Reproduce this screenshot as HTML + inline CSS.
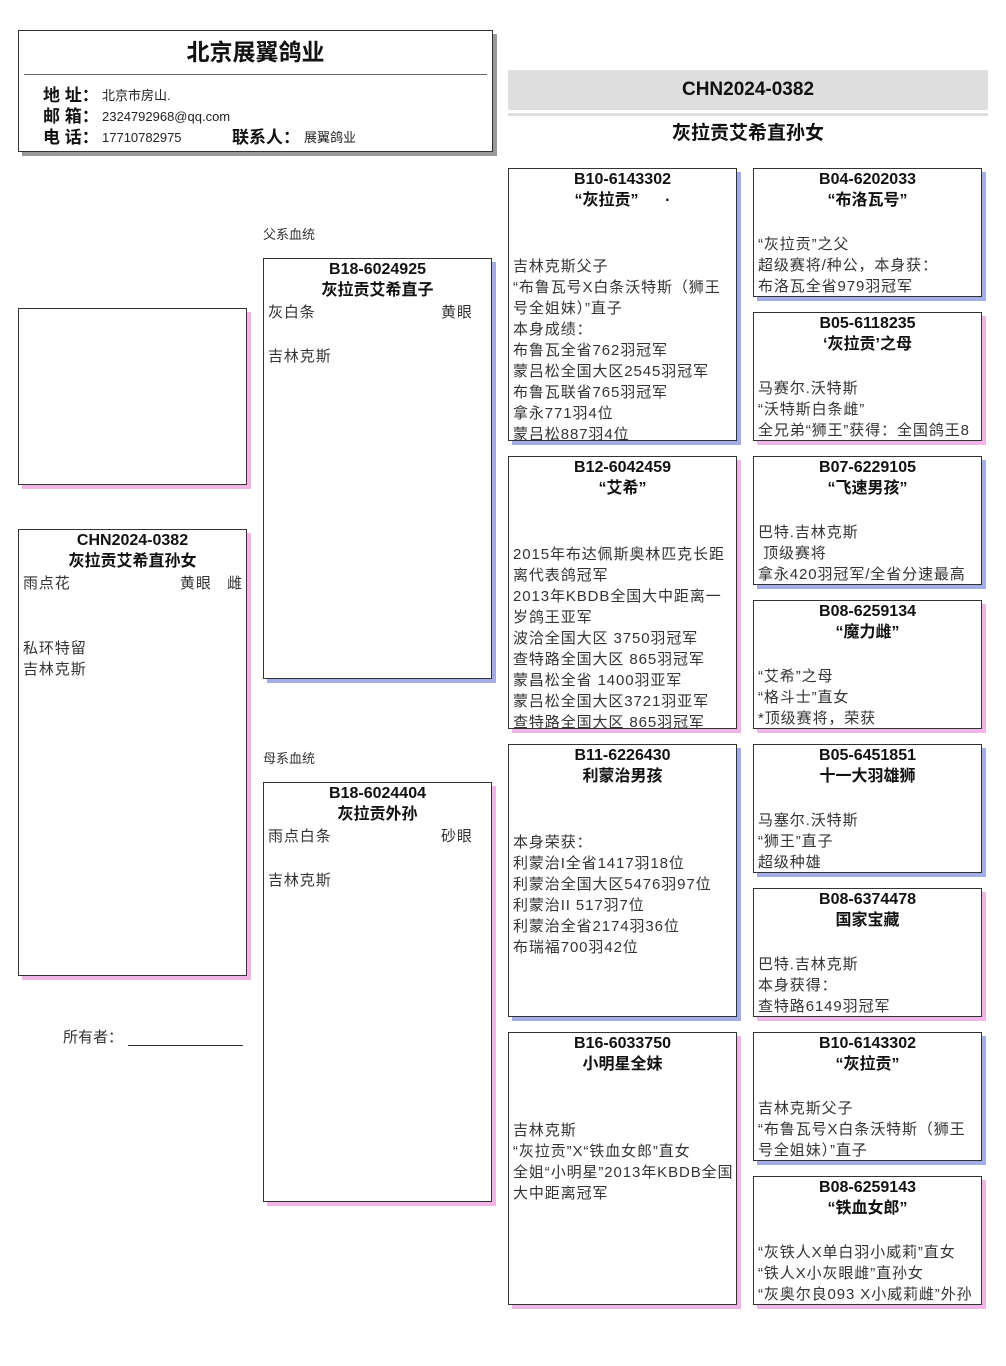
<!DOCTYPE html>
<html><head><meta charset="utf-8">
<style>
*{margin:0;padding:0;box-sizing:border-box}
body{width:1006px;height:1366px;background:#fff;position:relative;overflow:hidden;font-family:"Liberation Sans","Noto Sans CJK SC",sans-serif;color:#333}
.b{position:absolute;border:1px solid #333;background:#fff;overflow:hidden}
.m{box-shadow:4px 4px 0 #a3ace6}
.f{box-shadow:4px 4px 0 #f1b4e6}
.t{text-align:center;font-weight:bold;font-size:16px;line-height:21px;color:#111;white-space:nowrap}
.bd{position:absolute;left:4px;right:2px;font-size:15px;line-height:21px;color:#333;letter-spacing:0.9px}
.bd div{white-space:nowrap}
.w div{white-space:normal}
.a{position:absolute;font-size:15px;line-height:21px;white-space:nowrap;letter-spacing:0.9px}
.lbl{position:absolute;font-size:13px;color:#333}
</style></head><body>

<div class="b" style="left:18px;top:30px;width:475px;height:122px;box-shadow:4px 4px 0 #999">
 <div style="position:absolute;left:0;right:0;top:6px;text-align:center;font-weight:bold;font-size:23px;line-height:30px;color:#111">北京展翼鸽业</div>
 <div style="position:absolute;left:5px;right:5px;top:43px;border-top:1px solid #666"></div>
 <div style="position:absolute;left:24px;top:54px;font-size:17px;font-weight:bold;line-height:21px;color:#111">地 址：<br>邮 箱：<br>电 话：</div>
 <div style="position:absolute;left:83px;top:54px;font-size:13px;line-height:21px;color:#222">北京市房山.<br>2324792968@qq.com<br>17710782975</div>
 <div style="position:absolute;left:213px;top:96px;font-size:17px;font-weight:bold;line-height:21px;color:#111">联系人：</div>
 <div style="position:absolute;left:285px;top:96px;font-size:13px;line-height:21px;color:#222">展翼鸽业</div>
</div>

<div style="position:absolute;left:508px;top:70px;width:480px;height:40px;background:#dedede;text-align:center;font-weight:bold;font-size:19px;line-height:40px;color:#111">CHN2024-0382</div>
<div style="position:absolute;left:508px;top:113px;width:480px;height:3px;background:#dedede"></div>
<div style="position:absolute;left:508px;top:121px;width:480px;text-align:center;font-weight:bold;font-size:19px;line-height:26px;color:#111">灰拉贡艾希直孙女</div>

<div class="b f" style="left:18px;top:308px;width:229px;height:177px"></div>

<div class="b f" style="left:18px;top:529px;width:229px;height:447px">
 <div class="t">CHN2024-0382<br>灰拉贡艾希直孙女</div>
 <div class="a" style="left:4px;top:43px">雨点花</div>
 <div class="a" style="left:161px;top:43px">黄眼</div>
 <div class="a" style="left:208px;top:43px">雌</div>
 <div class="a" style="left:4px;top:108px">私环特留<br>吉林克斯</div>
</div>

<div style="position:absolute;left:63px;top:1028px;font-size:15px;line-height:20px;color:#333">所有者：</div>
<div style="position:absolute;left:128px;top:1045px;width:115px;border-top:1px solid #333"></div>

<div class="lbl" style="left:263px;top:224px">父系血统</div>
<div class="b m" style="left:263px;top:258px;width:229px;height:421px">
 <div class="t">B18-6024925<br>灰拉贡艾希直子</div>
 <div class="a" style="left:4px;top:43px">灰白条</div>
 <div class="a" style="left:177px;top:43px">黄眼</div>
 <div class="a" style="left:4px;top:87px">吉林克斯</div>
</div>

<div class="lbl" style="left:263px;top:748px">母系血统</div>
<div class="b f" style="left:263px;top:782px;width:229px;height:420px">
 <div class="t">B18-6024404<br>灰拉贡外孙</div>
 <div class="a" style="left:4px;top:43px">雨点白条</div>
 <div class="a" style="left:177px;top:43px">砂眼</div>
 <div class="a" style="left:4px;top:87px">吉林克斯</div>
</div>

<!-- column 3 -->
<div class="b m" style="left:508px;top:168px;width:229px;height:273px">
 <div class="t">B10-6143302<br>“灰拉贡”&nbsp;&nbsp;&nbsp;&nbsp;&nbsp;&nbsp;·</div>
 <div class="bd w" style="top:87px"><div>吉林克斯父子</div><div>“布鲁瓦号X白条沃特斯（狮王号全姐妹）”直子</div><div>本身成绩：</div><div>布鲁瓦全省762羽冠军</div><div>蒙吕松全国大区2545羽冠军</div><div>布鲁瓦联省765羽冠军</div><div>拿永771羽4位</div><div>蒙吕松887羽4位</div></div>
</div>
<div class="b f" style="left:508px;top:456px;width:229px;height:273px">
 <div class="t">B12-6042459<br>“艾希”</div>
 <div class="bd w" style="top:87px"><div>2015年布达佩斯奥林匹克长距离代表鸽冠军</div><div>2013年KBDB全国大中距离一岁鸽王亚军</div><div>波洽全国大区 3750羽冠军</div><div>查特路全国大区 865羽冠军</div><div>蒙昌松全省 1400羽亚军</div><div>蒙吕松全国大区3721羽亚军</div><div>查特路全国大区 865羽冠军</div></div>
</div>
<div class="b m" style="left:508px;top:744px;width:229px;height:273px">
 <div class="t">B11-6226430<br>利蒙治男孩</div>
 <div class="bd" style="top:87px"><div>本身荣获：</div><div>利蒙治I全省1417羽18位</div><div>利蒙治全国大区5476羽97位</div><div>利蒙治II 517羽7位</div><div>利蒙治全省2174羽36位</div><div>布瑞福700羽42位</div></div>
</div>
<div class="b f" style="left:508px;top:1032px;width:229px;height:273px">
 <div class="t">B16-6033750<br>小明星全妹</div>
 <div class="bd w" style="top:87px"><div>吉林克斯</div><div>“灰拉贡”X“铁血女郎”直女</div><div>全姐“小明星”2013年KBDB全国大中距离冠军</div></div>
</div>

<!-- column 4 -->
<div class="b m" style="left:753px;top:168px;width:229px;height:129px">
 <div class="t">B04-6202033<br>“布洛瓦号”</div>
 <div class="bd" style="top:65px"><div>“灰拉贡”之父</div><div>超级赛将/种公，本身获：</div><div>布洛瓦全省979羽冠军</div></div>
</div>
<div class="b f" style="left:753px;top:312px;width:229px;height:129px">
 <div class="t">B05-6118235<br>‘灰拉贡’之母</div>
 <div class="bd" style="top:65px"><div>马赛尔.沃特斯</div><div>“沃特斯白条雌”</div><div>全兄弟“狮王”获得：全国鸽王8</div></div>
</div>
<div class="b m" style="left:753px;top:456px;width:229px;height:129px">
 <div class="t">B07-6229105<br>“飞速男孩”</div>
 <div class="bd" style="top:65px"><div>巴特.吉林克斯</div><div>&nbsp;顶级赛将</div><div>拿永420羽冠军/全省分速最高</div></div>
</div>
<div class="b f" style="left:753px;top:600px;width:229px;height:129px">
 <div class="t">B08-6259134<br>“魔力雌”</div>
 <div class="bd" style="top:65px"><div>“艾希”之母</div><div>“格斗士”直女</div><div>*顶级赛将，荣获</div></div>
</div>
<div class="b m" style="left:753px;top:744px;width:229px;height:129px">
 <div class="t">B05-6451851<br>十一大羽雄狮</div>
 <div class="bd" style="top:65px"><div>马塞尔.沃特斯</div><div>“狮王”直子</div><div>超级种雄</div></div>
</div>
<div class="b f" style="left:753px;top:888px;width:229px;height:129px">
 <div class="t">B08-6374478<br>国家宝藏</div>
 <div class="bd" style="top:65px"><div>巴特.吉林克斯</div><div>本身获得：</div><div>查特路6149羽冠军</div></div>
</div>
<div class="b m" style="left:753px;top:1032px;width:229px;height:129px">
 <div class="t">B10-6143302<br>“灰拉贡”</div>
 <div class="bd w" style="top:65px"><div>吉林克斯父子</div><div>“布鲁瓦号X白条沃特斯（狮王号全姐妹）”直子</div></div>
</div>
<div class="b f" style="left:753px;top:1176px;width:229px;height:129px">
 <div class="t">B08-6259143<br>“铁血女郎”</div>
 <div class="bd" style="top:65px"><div>“灰铁人X单白羽小威莉”直女</div><div>“铁人X小灰眼雌”直孙女</div><div>“灰奥尔良093 X小威莉雌”外孙</div></div>
</div>

</body></html>
